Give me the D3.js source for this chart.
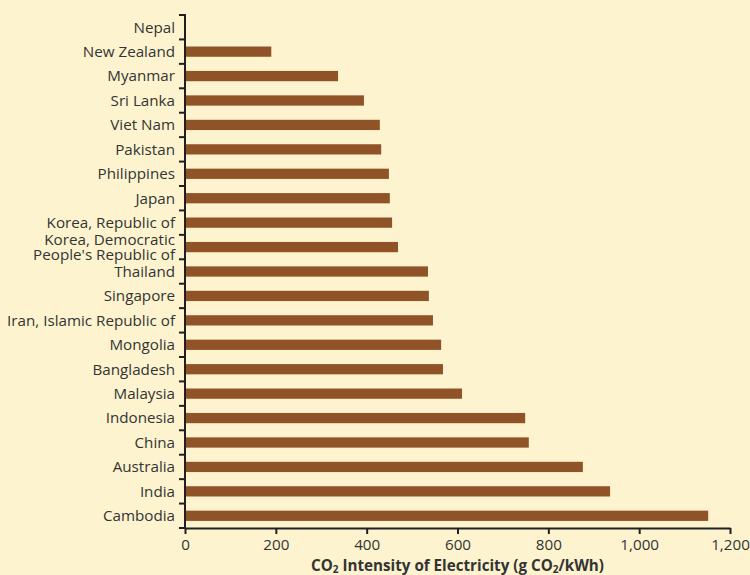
<!DOCTYPE html>
<html>
<head>
<meta charset="utf-8">
<script src="https://cdn.jsdelivr.net/npm/d3@7"></script>
<style>
  body { margin: 0; background: #fdf4cf; }
  svg { display: block; }
  text { font-family: "Open Sans", "Noto Sans", sans-serif; fill: #333; }
</style>
</head>
<body>
<div id="chart"></div>
<script>
var countries = ['Nepal', 'New Zealand', 'Myanmar', 'Sri Lanka', 'Viet Nam', 'Pakistan',
    'Philippines', 'Japan', 'Korea, Republic of', 'Korea, Democratic|People\'s Republic of',
    'Thailand', 'Singapore', 'Iran, Islamic Republic of', 'Mongolia', 'Bangladesh',
    'Malaysia', 'Indonesia', 'China', 'Australia', 'India', 'Cambodia'];
var intensity = [0, 190, 337, 394, 429, 432, 449, 451, 456, 469, 535, 537, 546, 564, 568,
    610, 749, 757, 876, 936, 1152];
var xTicks = [0, 200, 400, 600, 800, 1000, 1200];

var width = 750, height = 575;
var margin = {top: 15, right: 20, bottom: 47, left: 185};
var fontSize = '15.2px';

var svg = d3.select('#chart').append('svg')
    .attr('width', width)
    .attr('height', height);

svg.append('rect')
    .attr('width', width)
    .attr('height', height)
    .style('fill', '#fdf4cf');

var x = d3.scaleLinear()
    .domain([0, 1200])
    .range([margin.left, 730]);

var y = d3.scaleBand()
    .domain(countries)
    .range([margin.top, height - margin.bottom])
    .paddingInner(0.58)
    .paddingOuter(0.29);

var data = countries.map(function (c, i) { return {name: c, value: intensity[i]}; });

svg.selectAll('.bar')
    .data(data)
    .enter().append('rect')
        .attr('class', 'bar')
        .attr('x', x(0))
        .attr('y', function (d) { return y(d.name); })
        .attr('width', function (d) { return x(d.value) - x(0); })
        .attr('height', y.bandwidth())
        .style('fill', '#8f5327');

// x axis
var xAxis = svg.append('g')
    .attr('transform', 'translate(0,' + (height - margin.bottom) + ')')
    .call(d3.axisBottom(x)
        .tickValues(xTicks)
        .tickSize(6)
        .tickSizeOuter(0)
        .tickFormat(d3.format(',')));
xAxis.select('.domain').style('stroke', '#231f20').style('stroke-width', 2);
xAxis.selectAll('.tick line').style('stroke', '#231f20').style('stroke-width', 2);
xAxis.selectAll('.tick text')
    .attr('dy', '0.75em')
    .attr('y', 11)
    .style('font-size', fontSize)
    .style('fill', '#333');

// y axis: line with ticks at band boundaries
var step = y.step();
var bounds = d3.range(countries.length + 1).map(function (i) {
    return margin.top + i * step;
});
var yAxis = svg.append('g');
yAxis.append('line')
    .attr('x1', x(0)).attr('x2', x(0))
    .attr('y1', margin.top - 1).attr('y2', height - margin.bottom)
    .style('stroke', '#231f20').style('stroke-width', 2);
yAxis.selectAll('.ytick')
    .data(bounds)
    .enter().append('line')
        .attr('class', 'ytick')
        .attr('x1', x(0) - 6).attr('x2', x(0))
        .attr('y1', function (d) { return d; })
        .attr('y2', function (d) { return d; })
        .style('stroke', '#231f20').style('stroke-width', 2);

// category labels
var labels = svg.selectAll('.ylabel')
    .data(data)
    .enter().append('text')
        .attr('class', 'ylabel')
        .attr('text-anchor', 'end')
        .attr('x', 175)
        .attr('y', function (d) { return y(d.name) + y.bandwidth() / 2; })
        .style('font-size', fontSize);

labels.each(function (d) {
    var lines = d.name.split('|');
    var t = d3.select(this);
    lines.forEach(function (l, i) {
        t.append('tspan')
            .attr('x', 175)
            .attr('dy', i === 0 ? ((0.35 - (lines.length - 1) * 0.48) + 'em') : '0.96em')
            .text(l);
    });
});

// axis title
var title = svg.append('text')
    .attr('text-anchor', 'middle')
    .attr('x', (x(0) + x(1200)) / 2)
    .attr('y', 571)
    .style('font-size', fontSize)
    .style('font-weight', 'bold');
title.append('tspan').text('CO');
title.append('tspan').attr('dy', 2).style('font-size', '10px').text('2');
title.append('tspan').attr('dy', -2).text(' Intensity of Electricity (g CO');
title.append('tspan').attr('dy', 2).style('font-size', '10px').text('2');
title.append('tspan').attr('dy', -2).text('/kWh)');
</script>
</body>
</html>
